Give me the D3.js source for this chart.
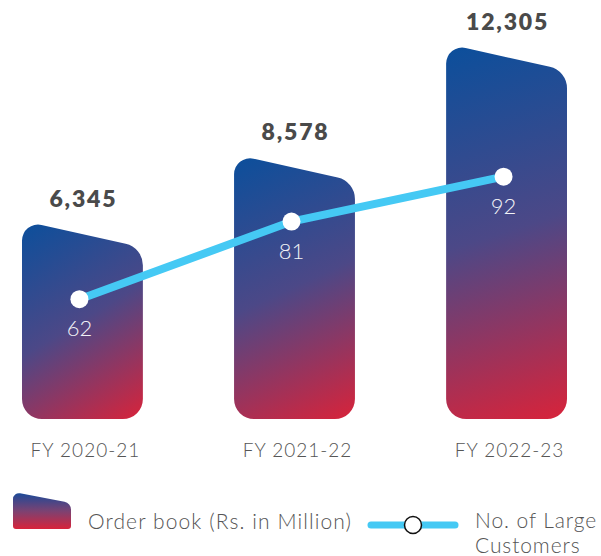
<!DOCTYPE html>
<html>
<head>
<meta charset="utf-8">
<script src="https://cdn.jsdelivr.net/npm/d3@7"></script>
<style>
  body { margin: 0; background: #fff; }
  svg { display: block; }
  text { font-family: "Lato", "Open Sans", sans-serif; }
</style>
</head>
<body>
<div id="chart"></div>
<script>
// chart data
var years = ["FY 2020-21", "FY 2021-22", "FY 2022-23"];
var orderBook = [6345, 8578, 12305];
var largeCustomers = [62, 81, 92];

var svgWidth = 601;
var svgHeight = 556;

var svg = d3.select("#chart")
  .append("svg")
  .attr("width", svgWidth)
  .attr("height", svgHeight);

// scales
var x = d3.scaleBand()
  .domain(years)
  .range([22, 567])
  .paddingInner(0.43)
  .paddingOuter(0);

var y = d3.scaleLinear()
  .domain([0, 13000])
  .range([409, 23]);

var yLine = d3.scaleLinear()
  .domain([40, 100])
  .range([389, 144]);

var barBottom = 419;
var drop = 27;

var data = years.map(function(d, i) {
  return { year: d, book: orderBook[i], cust: largeCustomers[i] };
});

// gradients, one per bar so the angle follows each bar
var defs = svg.append("defs");
data.forEach(function(d, i) {
  var x0 = x(d.year);
  var g = defs.append("linearGradient")
    .attr("id", "barGrad" + i)
    .attr("gradientUnits", "userSpaceOnUse")
    .attr("x1", x0).attr("y1", y(d.book))
    .attr("x2", x0 + x.bandwidth()).attr("y2", barBottom);
  g.append("stop").attr("offset", "0%").attr("stop-color", "#0a4f9c");
  g.append("stop").attr("offset", "50%").attr("stop-color", "#4c4887");
  g.append("stop").attr("offset", "100%").attr("stop-color", "#d8233a");
});

var legGrad = defs.append("linearGradient")
  .attr("id", "legGrad")
  .attr("x1", 0).attr("y1", 0)
  .attr("x2", 0).attr("y2", 1);
legGrad.append("stop").attr("offset", "0%").attr("stop-color", "#1c4a98");
legGrad.append("stop").attr("offset", "50%").attr("stop-color", "#7c4272");
legGrad.append("stop").attr("offset", "100%").attr("stop-color", "#d8233a");

// bar shape: sloped top with rounded corners
function barPath(x0, x1, yTL, yTR, yB, rTL, rTR, rB) {
  var p = d3.path();
  var cx = (x0 + x1) / 2;
  p.moveTo(cx, yB);
  p.arcTo(x0, yB, x0, yTL, rB);
  p.arcTo(x0, yTL, x1, yTR, rTL);
  p.arcTo(x1, yTR, x1, yB, rTR);
  p.arcTo(x1, yB, x0, yB, rB);
  p.closePath();
  return p.toString();
}

svg.selectAll(".bar")
  .data(data)
  .enter()
  .append("path")
  .attr("class", "bar")
  .attr("fill", (d, i) => "url(#barGrad" + i + ")")
  .attr("d", function(d) {
    var x0 = x(d.year), x1 = x0 + x.bandwidth();
    var top = y(d.book);
    return barPath(x0, x1, top, top + drop, barBottom, 16, 22, 20);
  });

// value labels
svg.selectAll(".val")
  .data(data)
  .enter()
  .append("text")
  .attr("x", d => x(d.year) + x.bandwidth() / 2 + 1)
  .attr("y", d => y(d.book) - 14)
  .attr("text-anchor", "middle")
  .attr("font-size", 23)
  .attr("font-weight", 800)
  .attr("letter-spacing", 1.8)
  .attr("fill", "#4a4a4a")
  .text(d => d3.format(",")(d.book));

// category labels
svg.selectAll(".cat")
  .data(data)
  .enter()
  .append("text")
  .attr("x", d => x(d.year) + x.bandwidth() / 2 + 3)
  .attr("y", 457)
  .attr("text-anchor", "middle")
  .attr("font-size", 19)
  .attr("font-weight", 300)
  .attr("letter-spacing", 1)
  .attr("fill", "#555")
  .text(d => d.year);

// customers line
var lineX = d => x(d.year) + x.bandwidth() / 2 - 3;
var line = d3.line()
  .x(lineX)
  .y(d => yLine(d.cust));

svg.append("path")
  .datum(data)
  .attr("fill", "none")
  .attr("stroke", "#45c9f4")
  .attr("stroke-width", 8)
  .attr("stroke-linecap", "round")
  .attr("d", line);

svg.selectAll(".dot")
  .data(data)
  .enter()
  .append("circle")
  .attr("cx", lineX)
  .attr("cy", d => yLine(d.cust))
  .attr("r", 9)
  .attr("fill", "#fff");

svg.selectAll(".cust")
  .data(data)
  .enter()
  .append("text")
  .attr("x", lineX)
  .attr("y", d => yLine(d.cust) + 37)
  .attr("text-anchor", "middle")
  .attr("font-size", 22)
  .attr("font-weight", 300)
  .attr("fill", "#f2f2f6")
  .text(d => d.cust);

// legend
var legend = svg.append("g");
legend.append("path")
  .attr("fill", "url(#legGrad)")
  .attr("d", barPath(13, 71, 492, 503, 529, 6, 8, 3));

legend.append("text")
  .attr("x", 88)
  .attr("y", 529)
  .attr("font-size", 21)
  .attr("font-weight", 300)
  .attr("letter-spacing", 1.1)
  .attr("fill", "#555")
  .text("Order book (Rs. in Million)");

legend.append("line")
  .attr("x1", 371).attr("x2", 455)
  .attr("y1", 525).attr("y2", 525)
  .attr("stroke", "#45c9f4")
  .attr("stroke-width", 7)
  .attr("stroke-linecap", "round");

legend.append("circle")
  .attr("cx", 413)
  .attr("cy", 525)
  .attr("r", 8.5)
  .attr("fill", "#fff")
  .attr("stroke", "#111")
  .attr("stroke-width", 1.5);

var leg2 = legend.append("text")
  .attr("x", 475)
  .attr("y", 528)
  .attr("font-size", 21)
  .attr("font-weight", 300)
  .attr("letter-spacing", 0.9)
  .attr("fill", "#555");
leg2.append("tspan").attr("x", 475).text("No. of Large");
leg2.append("tspan").attr("x", 475).attr("dy", 25).text("Customers");
</script>
</body>
</html>
